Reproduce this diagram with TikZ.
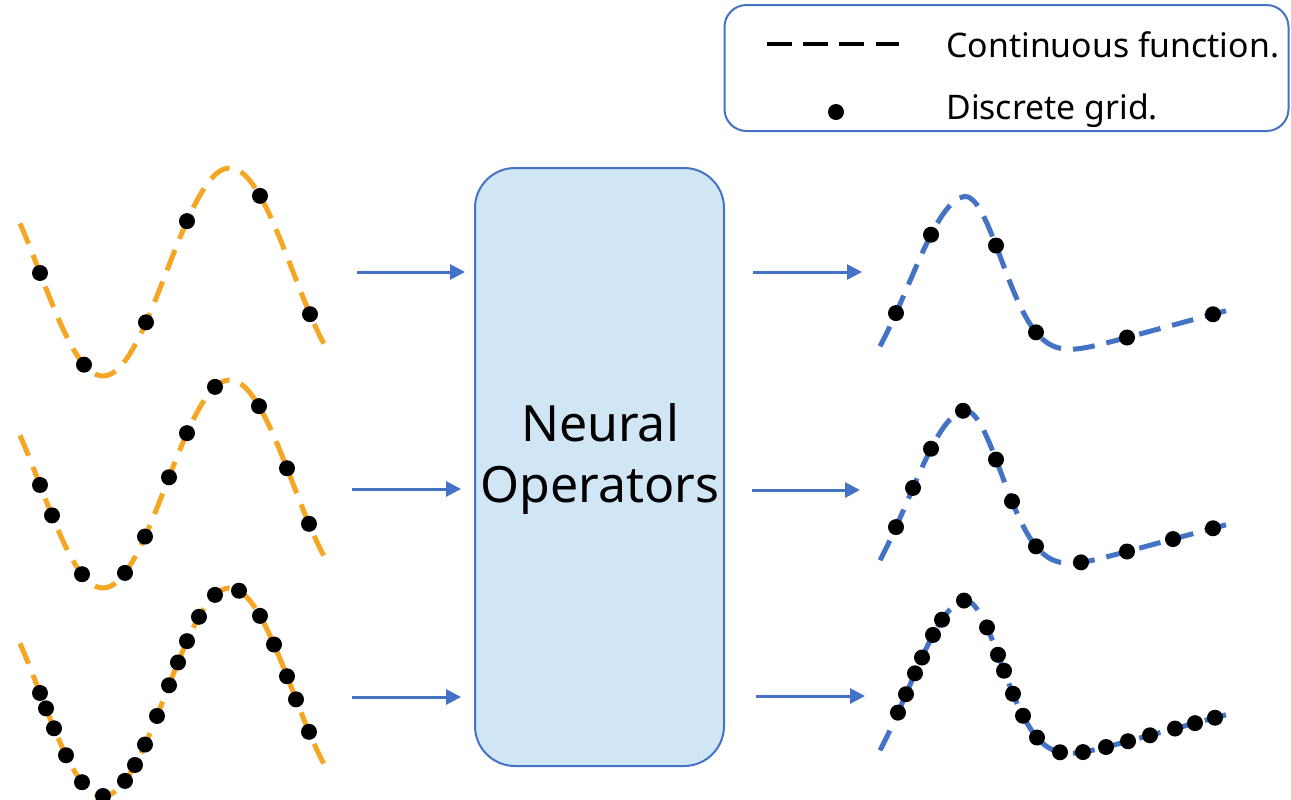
\documentclass[tikz,border=0pt]{standalone}
\usepackage{fontspec}
\setmainfont{Noto Sans}
\usepackage{xcolor}
\usepackage{tikz}
\usetikzlibrary{arrows.meta}

\definecolor{arancio}{RGB}{245,166,35}
\definecolor{bluoff}{RGB}{68,114,196}
\definecolor{azzurro}{RGB}{208,230,245}

\begin{document}
\begin{tikzpicture}[x=0.5pt,y=-0.5pt, % coordinate in pixel, y verso il basso
    declare function={
        onda(\x)=272+104*cos(1.42*(\x-103));
        larg(\x)=ifthenelse(\x<963,77,54);
        picco(\x)=351-0.27*(\x-1077)-185*exp(-((\x-963)/larg(\x))*((\x-963)/larg(\x)));
    },
    tratteggio/.style={line width=2.5pt,dash pattern=on 11pt off 6pt},
    freccia/.style={bluoff,line width=1.5pt,-{Triangle[length=7.5pt,width=7.5pt]}},
]
    \useasboundingbox (0,0) rectangle (1291,799);

        % Legenda
    \node[draw=bluoff,line width=1pt,rounded corners=11pt,
          minimum width=282pt,minimum height=63pt] (legenda) at (1006.5,68) {};
    \draw[line width=2.4pt,dash pattern=on 12.5pt off 5.6pt] (767,44) -- (899,44);
    \node[anchor=base west,inner sep=0pt,font=\fontsize{16.9}{20}\selectfont]
         (continua) at (946,57) {Continuous function.};
    \fill (836,112) circle (4pt);
    \node[anchor=base west,inner sep=0pt,font=\fontsize{16.9}{20}\selectfont]
         (discreta) at (946,119) {Discrete grid.};

        % Blocco centrale
    \node[draw=bluoff,fill=azzurro,line width=1pt,rounded corners=20pt,
          minimum width=124.5pt,minimum height=299pt] (op) at (599.5,467) {};
    \node[align=center,font=\fontsize{25}{30.5}\selectfont] (optesto) at (600,459)
         {Neural\\Operators};

        % Funzioni in ingresso
    \foreach \off in {0,212,420}
        \draw[arancio,tratteggio] plot[domain=20:326,samples=80,smooth] (\x,{onda(\x)+\off});
    \foreach \xx in {40,84,146,187,260,310}
        \fill (\xx,{onda(\xx)}) circle (4pt);
    \foreach \xx in {40,52,82,125,145,169,187,215,259,287,309}
        \fill (\xx,{onda(\xx)+212}) circle (4pt);
    \foreach \xx in {40,46,54,66,82,103,125,135,145,157,169,178,187,199,215,239,260,274,287,296,309}
        \fill (\xx,{onda(\xx)+420}) circle (4pt);

        % Funzioni in uscita
    \foreach \off in {0,214,404}
        \draw[bluoff,tratteggio] plot[domain=880:1226,samples=110,smooth] (\x,{picco(\x)+\off});
    \foreach \xx in {896,931,996,1036,1127,1213}
        \fill (\xx,{picco(\xx)}) circle (4pt);
    \foreach \xx in {896,913,931,963,996,1012,1036,1081,1127,1173,1213}
        \fill (\xx,{picco(\xx)+214}) circle (4pt);
    \foreach \xx in {898,906,915,922,933,942,964,987,998,1004,1013,1023,1037,1060,1083,1106,1128,1150,1175,1195,1215}
        \fill (\xx,{picco(\xx)+404}) circle (4pt);

        % Frecce
    \coordinate (ing1) at (357,272);
    \coordinate (ing2) at (352,489);
    \coordinate (ing3) at (352,697);
    \coordinate (usc1) at (862,272);
    \coordinate (usc2) at (860,490);
    \coordinate (usc3) at (865,696);
    \draw[freccia,shorten >=4.5pt] (ing1) -- (ing1 -| op.west);
    \draw[freccia,shorten >=6.5pt] (ing2) -- (ing2 -| op.west);
    \draw[freccia,shorten >=6.5pt] (ing3) -- (ing3 -| op.west);
    \draw[freccia,shorten <=14pt] (usc1 -| op.east) -- (usc1);
    \draw[freccia,shorten <=13.5pt] (usc2 -| op.east) -- (usc2);
    \draw[freccia,shorten <=15.5pt] (usc3 -| op.east) -- (usc3);

\end{tikzpicture}
\end{document}
